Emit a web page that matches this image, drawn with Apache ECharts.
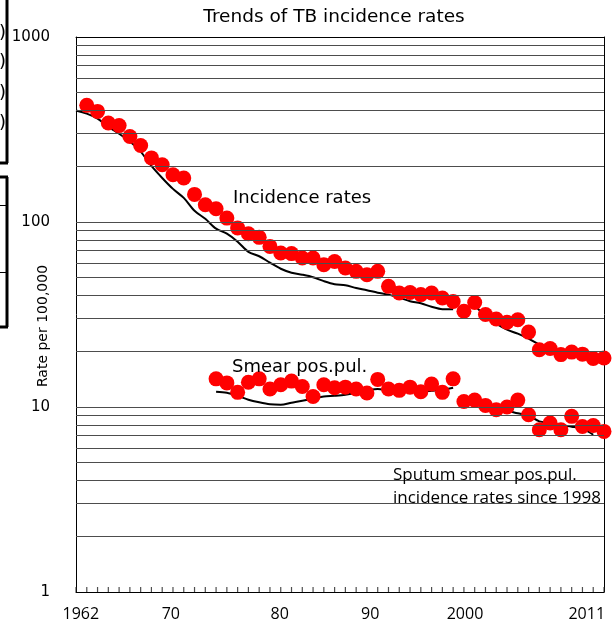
<!DOCTYPE html>
<html>
<head>
<meta charset="utf-8">
<title>Trends of TB incidence rates</title>
<script src="https://cdn.jsdelivr.net/npm/echarts@6/dist/echarts.min.js"></script>
<style>
  html, body { margin: 0; padding: 0; background: #fff; }
  #chart { width: 616px; height: 630px; }
</style>
</head>
<body>
<div id="chart"></div>
<script>
// years on the axis
const years = [
    1962, 1963, 1964, 1965, 1966, 1967, 1968, 1969, 1970, 1971,
    1972, 1973, 1974, 1975, 1976, 1977, 1978, 1979, 1980, 1981,
    1982, 1983, 1984, 1985, 1986, 1987, 1988, 1989, 1990, 1991,
    1992, 1993, 1994, 1995, 1996, 1997, 1998, 1999, 2000, 2001,
    2002, 2003, 2004, 2005, 2006, 2007, 2008, 2009, 2010, 2011,
];

// red dots, incidence rates (per 100,000)
const incidence = [
    null, 427, 396, 343, 332, 290, 259, 222, 204, 180,
    173, 141, 124, 118, 105, 92.9, 86.4, 82.6, 73.8, 68,
    67.5, 63.9, 63.9, 58.8, 61.2, 56.4, 54.1, 51.9, 54.1, 44.9,
    41.3, 41.6, 40.5, 41.3, 38.8, 37.2, 32.9, 36.7, 31.6, 29.9,
    28.7, 29.6, 25.4, 20.4, 20.7, 19.2, 19.8, 19.3, 18.3, 18.4,
];

// black line under the incidence dots
const incidenceTrend = [
    401, 385, 362, 327, 300, 272, 240, 201, 173, 151,
    135, 115, 104, 92, 86.5, 78.3, 69, 65.3, 60.3, 55.9,
    53.2, 51.9, 50.3, 47.9, 46.1, 45.5, 44.0, 42.8, 41.5, 40.5,
    39.0, 37.3, 36.4, 34.8, 33.8, 33.8, null, 35.3, 31.2, 28.2,
    26.2, 24.9, 23.4, 21.7, 20.4, 19.4, 18.9, 18.5, 18.0, 17.8,
];

// red dots, smear positive pulmonary
const smear = [
    null, null, null, null, null, null, null, null, null, null,
    null, null, null, 14.2, 13.5, 12.0, 13.6, 14.2, 12.5, 13.2,
    13.8, 12.9, 11.4, 13.2, 12.7, 12.8, 12.5, 11.9, 14.1, 12.5,
    12.3, 12.8, 12.1, 13.3, 12.0, 14.2, 10.7, 10.9, 10.2, 9.67,
    10.0, 10.9, 9.08, 7.54, 8.2, 7.54, 8.9, 7.85, 7.94, 7.38,
];

// black line under the smear dots
const smearTrend = [
    null, null, null, null, null, null, null, null, null, null,
    null, null, null, 12.1, 11.95, 11.5, 10.95, 10.6, 10.35, 10.3,
    10.55, 10.8, 11.1, 11.4, 11.5, 11.65, 11.95, 12.25, 12.5, 12.25,
    12.1, 12.1, 12.1, 12.25, 12.4, 12.7, null, 10.4, 10.0, 9.8,
    9.55, 9.25, 8.98, 8.36, 8.2, 7.97, 7.83, 7.64, 7.08, null,
];

// x labels were hand placed in the original, so they sit a bit off the years
const xLabelAt = [1962.45, 1970.8, 1980.9, 1989.3, 1998.1, 2009.4];
const xLabelText = ["1962", "70", "80", "90", "2000", "2011"];

// log grid lines
const gridValues = [2, 3, 4, 5, 6, 7, 8, 9, 10, 20, 30, 40, 50, 60, 70, 80, 90, 100,
    200, 300, 400, 500, 600, 700, 800, 900];

const sans = "DejaVu Sans";
const open = "Open Sans";

function pairs(values) {
    return years.map((y, i) => [y, values[i] == null ? "-" : values[i]]);
}

function dots(values) {
    return years.map((y, i) => [y, values[i]]).filter((p) => p[1] != null);
}

const chart = echarts.init(document.getElementById("chart"), null, { renderer: "canvas" });

const black = { color: "#000", width: 1 };
const lineStyle = { color: "#000", width: 2 };
const dotStyle = { color: "#ff0000", opacity: 1 };

// plain frame axis: line only
function frameAxis(position) {
    return {
        position: position,
        axisLine: { show: true, onZero: false, lineStyle: { color: "#000", width: 1 } },
        axisTick: { show: false },
        axisLabel: { show: false },
        splitLine: { show: false },
    };
}

chart.setOption({
    animation: false,
    grid: {
        left: 76,
        right: 12,
        top: 37,
        bottom: 38,
    },
    xAxis: [
        {
            type: "value",
            position: "bottom",
            min: 1962,
            max: 2011,
            interval: 1,
            axisLine: { show: true, onZero: false, lineStyle: { color: "#000", width: 1 } },
            axisTick: { show: false },
            axisLabel: {
                customValues: xLabelAt,
                formatter: (v) => {
                    const i = xLabelAt.findIndex((p) => Math.abs(p - v) < 0.01);
                    return i >= 0 ? xLabelText[i] : "";
                },
                margin: 14,
                color: "#000",
                fontFamily: open,
                fontSize: 16,
            },
            splitLine: { show: false },
        },
        Object.assign({ type: "value", min: 1962, max: 2011 }, frameAxis("top")),
    ],
    yAxis: [
        {
            type: "log",
            logBase: 10,
            min: 1,
            max: 1000,
            axisLine: { show: true, onZero: false, lineStyle: { color: "#000", width: 1 } },
            axisTick: { show: false },
            axisLabel: {
                color: "#000",
                fontFamily: sans,
                fontSize: 15,
                margin: 26,
                formatter: (v) => String(Math.round(v)),
            },
            splitLine: { show: false },
        },
        Object.assign({ type: "log", logBase: 10, min: 1, max: 1000 }, frameAxis("right")),
    ],
    series: [
        {
            name: "grid",
            type: "line",
            data: [],
            silent: true,
            z: 1,
            markLine: {
                silent: true,
                symbol: ["none", "none"],
                label: { show: false },
                emphasis: { disabled: true },
                lineStyle: { color: "#4d4d4d", width: 1, type: "solid" },
                data: gridValues.map((v) => ({ yAxis: v })),
            },
        },
        {
            // small year ticks standing on the bottom axis
            name: "year ticks",
            type: "scatter",
            data: years.map((y) => [y, 1]),
            symbol: "rect",
            symbolSize: [1.2, 5],
            symbolOffset: [0, -2.5],
            itemStyle: { color: "#222" },
            silent: true,
            clip: false,
            z: 4,
        },
        {
            name: "Incidence trend",
            type: "line",
            data: pairs(incidenceTrend),
            showSymbol: false,
            connectNulls: false,
            smooth: 0.3,
            lineStyle: lineStyle,
            z: 2,
        },
        {
            name: "Smear trend",
            type: "line",
            data: pairs(smearTrend),
            showSymbol: false,
            connectNulls: false,
            smooth: 0.3,
            lineStyle: lineStyle,
            z: 2,
        },
        {
            name: "Incidence rates",
            type: "scatter",
            data: dots(incidence),
            symbolSize: 15,
            itemStyle: dotStyle,
            z: 3,
        },
        {
            name: "Smear pos.pul.",
            type: "scatter",
            data: dots(smear),
            symbolSize: 15,
            itemStyle: dotStyle,
            z: 3,
        },
    ],
    graphic: [
        {
            type: "text", x: 334, y: 17, z: 10,
            style: { text: "Trends of TB incidence rates", font: `18.5px "${sans}"`, fill: "#000",
                align: "center", verticalAlign: "middle" },
        },
        {
            type: "text", x: 233, y: 198, z: 10,
            style: { text: "Incidence rates", font: `18px "${sans}"`, fill: "#000", verticalAlign: "middle" },
        },
        {
            type: "text", x: 232, y: 367, z: 10,
            style: { text: "Smear pos.pul.", font: `18px "${sans}"`, fill: "#000", verticalAlign: "middle" },
        },
        {
            type: "text", x: 393, y: 475, z: 10,
            style: { text: "Sputum smear pos.pul.", font: `17px "${open}"`, fill: "#000", verticalAlign: "middle" },
        },
        {
            type: "text", x: 393, y: 498, z: 10,
            style: { text: "incidence rates since 1998", font: `17px "${open}"`, fill: "#000", verticalAlign: "middle" },
        },
        {
            type: "text", x: 43, y: 326, rotation: Math.PI / 2, z: 10,
            style: { text: "Rate per 100,000", font: `14px "${sans}"`, fill: "#000",
                align: "center", verticalAlign: "middle" },
        },
        // clipped boxes of the neighbouring panel at the left edge
        { type: "line", shape: { x1: 7, y1: 0, x2: 7, y2: 163 }, style: { stroke: "#000", lineWidth: 3 } },
        { type: "line", shape: { x1: 0, y1: 163, x2: 8, y2: 163 }, style: { stroke: "#000", lineWidth: 3 } },
        { type: "line", shape: { x1: 0, y1: 177, x2: 8, y2: 177 }, style: { stroke: "#000", lineWidth: 3 } },
        { type: "line", shape: { x1: 7, y1: 177, x2: 7, y2: 327 }, style: { stroke: "#000", lineWidth: 3 } },
        { type: "line", shape: { x1: 0, y1: 327, x2: 8, y2: 327 }, style: { stroke: "#000", lineWidth: 3 } },
        { type: "line", shape: { x1: 0, y1: 205.5, x2: 6, y2: 205.5 }, style: { stroke: "#000", lineWidth: 1 } },
        { type: "line", shape: { x1: 0, y1: 272.5, x2: 6, y2: 272.5 }, style: { stroke: "#000", lineWidth: 1 } },
        { type: "text", x: 6, y: 33, style: { text: ")", font: `18px "${sans}"`, fill: "#000", align: "right", verticalAlign: "middle" } },
        { type: "text", x: 6, y: 62, style: { text: ")", font: `18px "${sans}"`, fill: "#000", align: "right", verticalAlign: "middle" } },
        { type: "text", x: 6, y: 93, style: { text: ")", font: `18px "${sans}"`, fill: "#000", align: "right", verticalAlign: "middle" } },
        { type: "text", x: 6, y: 123, style: { text: ")", font: `18px "${sans}"`, fill: "#000", align: "right", verticalAlign: "middle" } },
    ],
});
</script>
</body>
</html>
